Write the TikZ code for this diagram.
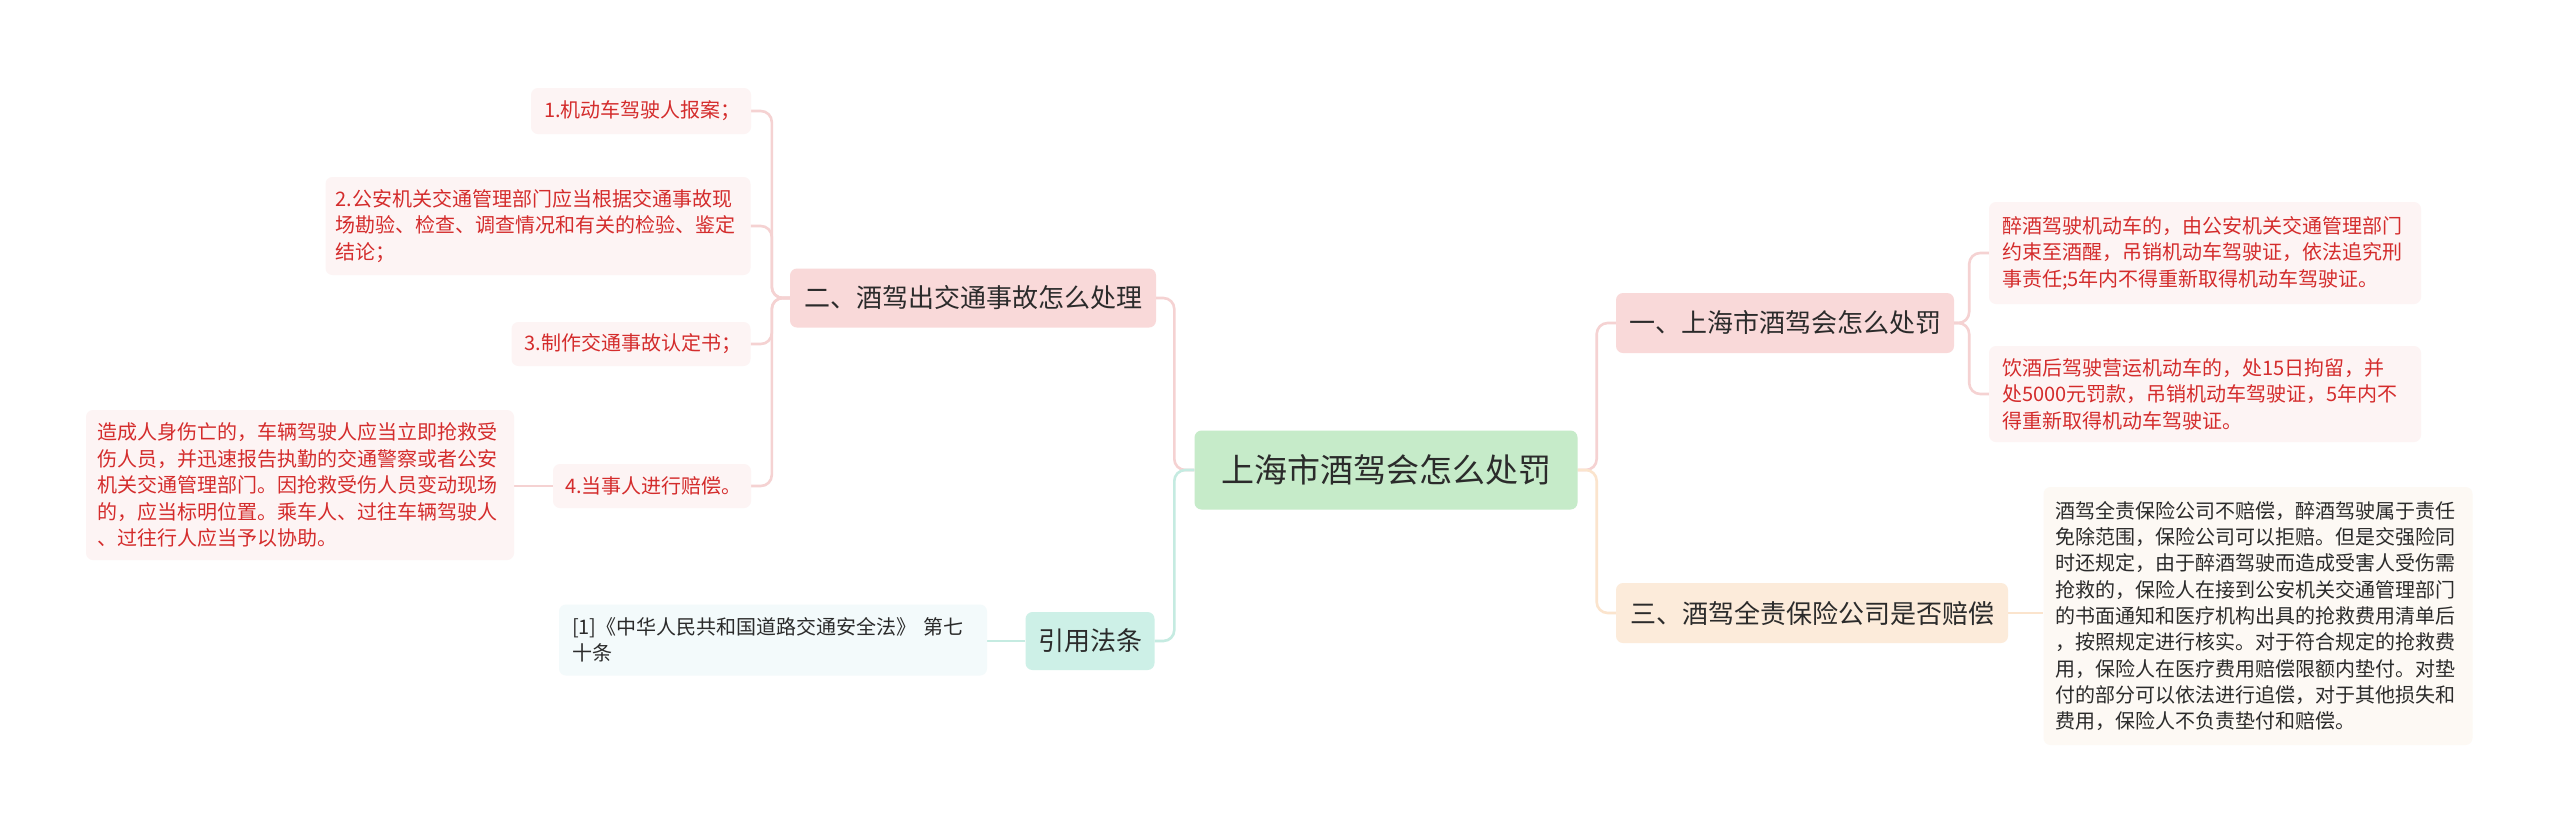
\documentclass[tikz,border=0pt]{standalone}
\usepackage{fontspec}
\setmainfont{Noto Sans CJK SC}
\usetikzlibrary{backgrounds}
\definecolor{cgreen}{HTML}{C6EBC9}
\definecolor{cpink}{HTML}{F9D9D9}
\definecolor{cpeach}{HTML}{FCEBDA}
\definecolor{cteal}{HTML}{CDF0E7}
\definecolor{lpink}{HTML}{FDF4F4}
\definecolor{lpeach}{HTML}{FDF9F4}
\definecolor{lteal}{HTML}{F3FAFB}
\definecolor{tred}{HTML}{D42C2C}
\definecolor{tdark}{HTML}{2B2B2B}
\definecolor{kpink}{HTML}{F5D2D2}
\definecolor{kpeach}{HTML}{FBE4CD}
\definecolor{kteal}{HTML}{C5EBE1}
\begin{document}
\begin{tikzpicture}[x=1pt,y=-1pt,
  box/.style={rounded corners=7pt, inner sep=0pt, anchor=center},
  rootbox/.style={box, fill=cgreen, text=tdark, font=\fontsize{33}{40}\selectfont},
  mainbox/.style={box, text=tdark, font=\fontsize{26}{32}\selectfont},
  redleaf/.style={box, fill=lpink, text=tred, font=\fontsize{20}{26.5}\selectfont, align=left},
  darkleaf/.style={box, text=tdark, font=\fontsize{20}{26.3}\selectfont, align=left},
  conn/.style={line width=2.6pt, rounded corners=11pt}
]
\useasboundingbox (0,0) rectangle (2560,831);

% root
\node[rootbox, minimum width=383, minimum height=79] (c) at (1386,470) {上海市酒驾会怎么处罚};

% main topics
\node[mainbox, fill=cpink, minimum width=338, minimum height=60] (n1) at (1785,323) {一、上海市酒驾会怎么处罚};
\node[mainbox, fill=cpeach, minimum width=392, minimum height=60] (n3) at (1812,613) {三、酒驾全责保险公司是否赔偿};
\node[mainbox, fill=cpink, minimum width=366, minimum height=59] (n2) at (973,298) {二、酒驾出交通事故怎么处理};
\node[mainbox, fill=cteal, minimum width=129, minimum height=58] (n4) at (1090,641) {引用法条};

% right leaves
\node[redleaf, minimum width=432, minimum height=102, text width=406] (l1a) at (2205,253)
  {醉酒驾驶机动车的，由公安机关交通管理部门\\约束至酒醒，吊销机动车驾驶证，依法追究刑\\事责任;5年内不得重新取得机动车驾驶证。};
\node[redleaf, minimum width=432, minimum height=96, text width=406] (l1b) at (2205,394)
  {饮酒后驾驶营运机动车的，处15日拘留，并\\处5000元罚款，吊销机动车驾驶证，5年内不\\得重新取得机动车驾驶证。};
\node[darkleaf, fill=lpeach, minimum width=429, minimum height=258, text width=405] (l3) at (2258,616)
  {酒驾全责保险公司不赔偿，醉酒驾驶属于责任\\免除范围，保险公司可以拒赔。但是交强险同\\时还规定，由于醉酒驾驶而造成受害人受伤需\\抢救的，保险人在接到公安机关交通管理部门\\的书面通知和医疗机构出具的抢救费用清单后\\，按照规定进行核实。对于符合规定的抢救费\\用，保险人在医疗费用赔偿限额内垫付。对垫\\付的部分可以依法进行追偿，对于其他损失和\\费用，保险人不负责垫付和赔偿。};

% left leaves
\node[redleaf, minimum width=220, minimum height=46, text width=194] (l21) at (641,111) {1.机动车驾驶人报案；};
\node[redleaf, minimum width=425, minimum height=98, text width=405] (l22) at (538,226)
  {2.公安机关交通管理部门应当根据交通事故现\\场勘验、检查、调查情况和有关的检验、鉴定\\结论；};
\node[redleaf, minimum width=239, minimum height=44, text width=213] (l23) at (631,344) {3.制作交通事故认定书；};
\node[redleaf, minimum width=198, minimum height=44, text width=174] (l24) at (652,486) {4.当事人进行赔偿。};
\node[redleaf, minimum width=428, minimum height=150, text width=406] (d24) at (300,485)
  {造成人身伤亡的，车辆驾驶人应当立即抢救受\\伤人员，并迅速报告执勤的交通警察或者公安\\机关交通管理部门。因抢救受伤人员变动现场\\的，应当标明位置。乘车人、过往车辆驾驶人\\、过往行人应当予以协助。};
\node[darkleaf, fill=lteal, minimum width=428, minimum height=71, text width=402] (lref) at (773,640)
  {[1]《中华人民共和国道路交通安全法》 第七\\十条};

\begin{scope}[on background layer]
  \fill[white] (0,0) rectangle (2560,831);
  \draw[conn, kpink] (c.east) -- ++(19,0) |- (n1.west);
  \draw[conn, kpeach] (c.east) -- ++(19,0) |- (n3.west);
  \draw[conn, kpink] (c.west) -- ++(-20,0) |- (n2.east);
  \draw[conn, kteal] (c.west) -- ++(-20,0) |- (n4.east);
  \draw[conn, kpink] (n1.east) -- ++(15,0) |- (l1a.west);
  \draw[conn, kpink] (n1.east) -- ++(15,0) |- (l1b.west);
  \draw[conn, kpeach] (n3.east) -- (l3.west |- n3.east);
  \draw[conn, kpink] (n2.west) -- ++(-18,0) |- (l21.east);
  \draw[conn, kpink] (n2.west) -- ++(-18,0) |- (l22.east);
  \draw[conn, kpink] (n2.west) -- ++(-18,0) |- (l23.east);
  \draw[conn, kpink] (n2.west) -- ++(-18,0) |- (l24.east);
  \draw[conn, kpink] (l24.west) -- (d24.east |- l24.west);
  \draw[conn, kteal] (n4.west) -- (lref.east |- n4.west);
\end{scope}
\end{tikzpicture}
\end{document}
